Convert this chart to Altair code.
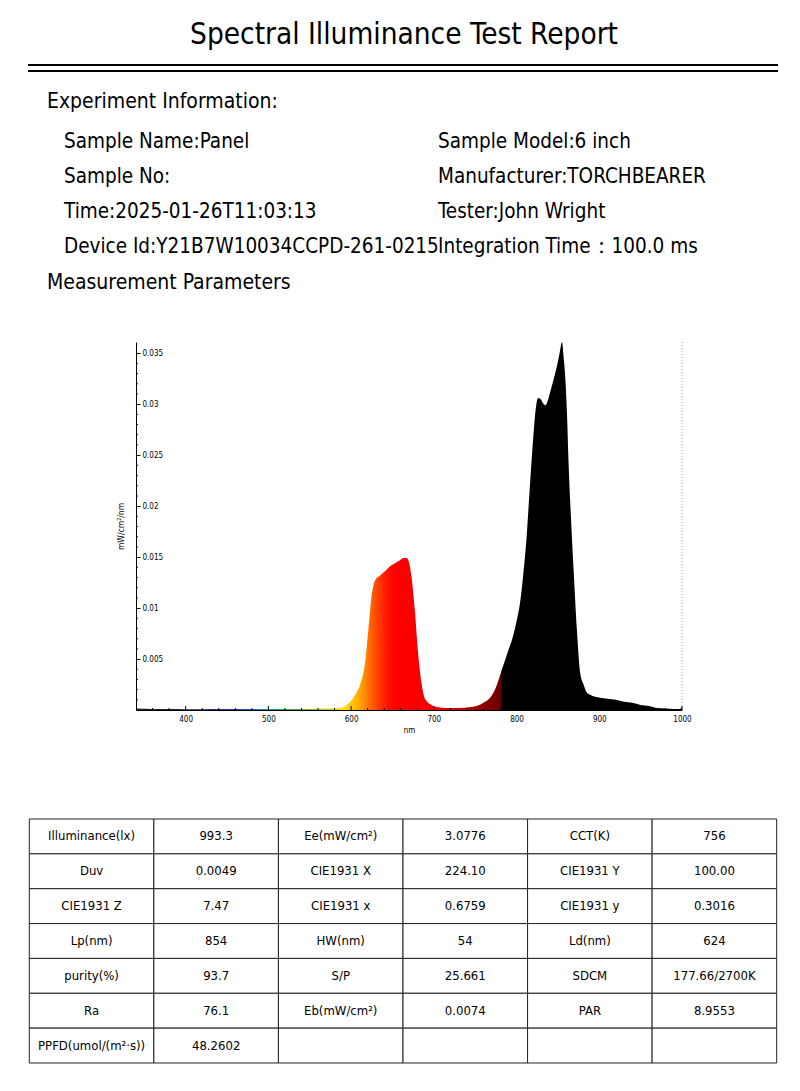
import altair as alt
import pandas as pd

FONT = "DejaVu Sans Condensed, DejaVu Sans, sans-serif"

# ---------------- header texts ----------------
title_text = "Spectral Illuminance Test Report"
heading_info = "Experiment Information:"
heading_meas = "Measurement Parameters"
info_texts = ["Sample Name:Panel", "Sample Model:6 inch",
              "Sample No:", "Manufacturer:TORCHBEARER",
              "Time:2025-01-26T11:03:13", "Tester:John Wright",
              "Device Id:Y21B7W10034CCPD-261-0215", "Integration Time\uff1a100.0 ms"]
info_cols = [0, 1, 0, 1, 0, 1, 0, 1]
info_rows = [0, 0, 1, 1, 2, 2, 3, 3]

# ---------------- spectrum ----------------
wavelength = [340, 360, 380, 400, 420, 440, 460, 480, 500, 520,
              540, 560, 575, 587, 593, 599, 605, 611, 617, 621,
              625, 629, 635, 641, 647, 653, 659, 664, 667, 670,
              673, 677, 681, 685, 688, 692, 697, 704, 715, 730,
              745, 755, 762, 768, 775, 782, 789, 796, 800, 804, 808,
              812, 816, 820, 823, 826, 829, 832, 835, 838, 841,
              845, 849, 852, 855, 857, 859, 861, 863, 866, 869,
              873, 877, 881, 885, 889, 895, 901, 910, 920, 930,
              940, 950, 960, 970, 980, 990, 997, 1000]
irradiance = [0.00015, 0.0001, 0.0001, 0.00008, 0.00008, 0.0001, 0.0001, 0.0001, 0.0001, 0.0001,
              0.0001, 0.00012, 0.00015, 0.0002, 0.0004, 0.0008, 0.0015, 0.0025, 0.0047, 0.0080,
              0.0113, 0.0127, 0.0132, 0.0136, 0.0141, 0.0144, 0.0147, 0.0149, 0.0149, 0.0145,
              0.0131, 0.0098, 0.0056, 0.0027, 0.0014, 0.0008, 0.0005, 0.0003, 0.0002, 0.0002,
              0.0003, 0.0005, 0.0008, 0.0012, 0.0022, 0.0039, 0.0056, 0.0073, 0.0087, 0.0104, 0.0132,
              0.0168, 0.0218, 0.0265, 0.0294, 0.0306, 0.0305, 0.0301, 0.0299, 0.0304, 0.0313,
              0.0325, 0.0338, 0.0350, 0.0361, 0.0345, 0.0325, 0.0290, 0.0240, 0.0185, 0.0137,
              0.0078, 0.0036, 0.0025, 0.0017, 0.0015, 0.0013, 0.0012, 0.0011, 0.0010, 0.0008,
              0.0007, 0.0005, 0.0004, 0.0002, 0.00015, 0.0001, 0.0001, 0.0003]
assert len(wavelength) == len(irradiance)

x_major = [400, 500, 600, 700, 800, 900, 1000]
x_minor = [360, 380, 420, 440, 460, 480, 520, 540, 560, 580, 620, 640, 660, 680,
           720, 740, 760, 780, 820, 840, 860, 880, 920, 940, 960, 980]
y_major = [0.005, 0.01, 0.015, 0.02, 0.025, 0.03, 0.035]
y_minor = [0.001, 0.002, 0.003, 0.004, 0.006, 0.007, 0.008, 0.009, 0.011, 0.012, 0.013, 0.014,
           0.016, 0.017, 0.018, 0.019, 0.021, 0.022, 0.023, 0.024, 0.026, 0.027, 0.028, 0.029,
           0.031, 0.032, 0.033, 0.034]

# wavelength -> colour stops for the fill
stop_wl = [340, 400, 430, 460, 485, 500, 515, 545, 570, 590, 602, 612, 622, 632, 645, 655,
           700, 730, 760, 781, 781.5, 1000]
stop_col = ["#202020", "#2a1838", "#3a1a8a", "#2833b0", "#1f6fc0", "#1fa0a8", "#22a845",
            "#6ab82a", "#c8c820", "#ffe000", "#ffc400", "#ffa000", "#ff7000", "#ff4000",
            "#ff1000", "#ff0000", "#f20000", "#c80000", "#900000", "#6a0000", "#000000", "#000000"]

# ---------------- table ----------------
table_rows = [
    ["Illuminance(lx)", "993.3", "Ee(mW/cm\u00b2)", "3.0776", "CCT(K)", "756"],
    ["Duv", "0.0049", "CIE1931 X", "224.10", "CIE1931 Y", "100.00"],
    ["CIE1931 Z", "7.47", "CIE1931 x", "0.6759", "CIE1931 y", "0.3016"],
    ["Lp(nm)", "854", "HW(nm)", "54", "Ld(nm)", "624"],
    ["purity(%)", "93.7", "S/P", "25.661", "SDCM", "177.66/2700K"],
    ["Ra", "76.1", "Eb(mW/cm\u00b2)", "0.0074", "PAR", "8.9553"],
    ["PPFD(umol/(m\u00b2\u00b7s))", "48.2602", "", "", "", ""],
]

W, H = 784, 1075
X0, X1 = 128, 674      # spectrum plot x range (px)
Y0, Y1 = 702, 334      # spectrum plot y range (px, bottom, top)

# ---------- header layers ----------
title = alt.Chart(pd.DataFrame({"t": [title_text]})).mark_text(
    font=FONT, fontSize=29.5, align="center", baseline="middle", color="black"
).encode(text="t:N", x=alt.value(396), y=alt.value(27))

line_df = pd.DataFrame({"k": [0]})
line1 = alt.Chart(line_df).mark_rule(color="black", strokeWidth=2).encode(
    x=alt.value(20), x2=alt.value(770), y=alt.value(57))
line2 = alt.Chart(line_df).mark_rule(color="black", strokeWidth=2).encode(
    x=alt.value(20), x2=alt.value(770), y=alt.value(63))

head1 = alt.Chart(pd.DataFrame({"t": [heading_info]})).mark_text(
    font=FONT, fontSize=21, align="left", baseline="middle", color="black"
).encode(text="t:N", x=alt.value(39), y=alt.value(94))
head2 = alt.Chart(pd.DataFrame({"t": [heading_meas]})).mark_text(
    font=FONT, fontSize=21, align="left", baseline="middle", color="black"
).encode(text="t:N", x=alt.value(39), y=alt.value(275))

info_df = pd.DataFrame({"t": info_texts, "c": info_cols, "r": info_rows})
info = alt.Chart(info_df).mark_text(
    font=FONT, fontSize=20.5, align="left", baseline="middle", color="black"
).encode(
    text="t:N",
    x=alt.X("c:Q", scale=alt.Scale(domain=[0, 1], range=[56, 430]), axis=None),
    y=alt.Y("r:Q", scale=alt.Scale(domain=[0, 3], range=[134, 239]), axis=None),
)

# ---------- spectrum ----------
spec_df = pd.DataFrame({"wl": wavelength, "v": irradiance})
gradient = alt.Gradient(
    gradient="linear",
    stops=[alt.GradientStop(color=c, offset=(w - 340) / 660.0) for w, c in zip(stop_wl, stop_col)],
    x1=0, x2=1, y1=0, y2=0,
)

area = alt.Chart(spec_df).mark_area(color=gradient, interpolate="monotone").encode(
    x=alt.X("wl:Q",
            scale=alt.Scale(domain=[340, 1000], range=[X0, X1], nice=False, zero=False),
            axis=alt.Axis(orient="bottom", offset=Y0 - H, values=x_major, format="d",
                          ticks=False, tickSize=0, labelPadding=5, labelFont=FONT,
                          labelFontSize=8, labelColor="black", labelFlush=False,
                          domainColor="black", domainWidth=1, grid=False, zindex=1,
                          title="nm", titleFont=FONT, titleFontSize=8,
                          titleFontWeight="normal", titlePadding=3, titleColor="black")),
    y=alt.Y("v:Q",
            scale=alt.Scale(domain=[0, 0.0361], range=[Y0, Y1], nice=False, zero=True),
            axis=alt.Axis(orient="right", offset=X0 - W, values=y_major, format="~g",
                          tickSize=4, tickColor="black", labelPadding=2, labelFont=FONT,
                          labelFontSize=8, labelColor="black", labelFlush=False,
                          labelAlign="left", labelBaseline="middle",
                          domainColor="black", domainWidth=1, grid=False, zindex=1,
                          title="mW/cm\u00b2/nm", titleAngle=270, titleX=-11,
                          titleY=(Y0 + Y1) / 2, titleFont=FONT, titleFontSize=8.5,
                          titleFontWeight="normal", titleColor="black")),
)

edge = alt.Chart(pd.DataFrame({"wl": [1000]})).mark_rule(
    color="#9a9a9a", strokeDash=[1, 2], strokeWidth=1
).encode(x="wl:Q", y=alt.value(Y1), y2=alt.value(Y0))

xt_major = alt.Chart(pd.DataFrame({"wl": x_major})).mark_rule(color="black").encode(
    x="wl:Q", y=alt.value(Y0), y2=alt.value(Y0 - 4))
xt_minor = alt.Chart(pd.DataFrame({"wl": x_minor})).mark_rule(color="black").encode(
    x="wl:Q", y=alt.value(Y0), y2=alt.value(Y0 - 2))
yt_minor = alt.Chart(pd.DataFrame({"v": y_minor})).mark_rule(color="black").encode(
    y="v:Q", x=alt.value(X0), x2=alt.value(X0 + 2))

spectrum = alt.layer(area, edge, xt_major, xt_minor, yt_minor)

# ---------- table ----------
recs = []
for r, row in enumerate(table_rows):
    for c, txt in enumerate(row):
        recs.append({"c": c, "c2": c + 1, "cx": c + 0.5, "r": r, "r2": r + 1,
                     "ry": r + 0.5, "txt": txt})
table_df = pd.DataFrame(recs)

tx = alt.Scale(domain=[0, 6], range=[21.3, 768.7])
ty = alt.Scale(domain=[0, 7], range=[811, 1055])
cells = alt.Chart(table_df).mark_rect(fill="white", stroke="#222222", strokeWidth=1).encode(
    x=alt.X("c:Q", scale=tx, axis=None), x2="c2:Q",
    y=alt.Y("r:Q", scale=ty, axis=None), y2="r2:Q",
)
cell_text = alt.Chart(table_df).mark_text(
    font=FONT, fontSize=13, align="center", baseline="middle", color="black"
).encode(
    x=alt.X("cx:Q", scale=tx, axis=None),
    y=alt.Y("ry:Q", scale=ty, axis=None),
    text="txt:N",
)
table = alt.layer(cells, cell_text)

chart = (
    alt.layer(title, line1, line2, head1, head2, info, spectrum, table)
    .resolve_scale(x="independent", y="independent")
    .properties(width=W, height=H, padding=0, background="white")
    .configure_view(stroke=None)
)

chart.save("out.html", embed_options={"renderer": "svg", "actions": False})
